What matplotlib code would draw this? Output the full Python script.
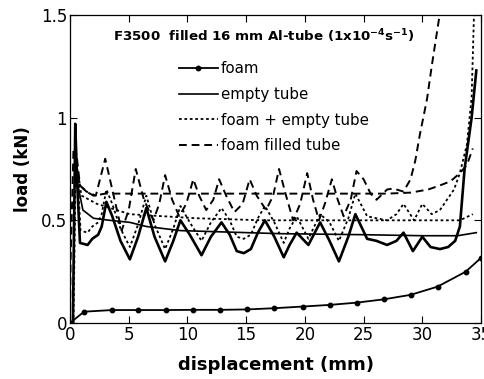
import matplotlib
matplotlib.use("Agg")
import matplotlib.pyplot as plt

# ---------- data ----------
# foam
foam_x = [0.0, 1.2, 3.6, 5.8, 8.2, 10.5, 12.8, 15.1, 17.4, 19.8, 22.1, 24.4, 26.7, 29.0, 31.3, 33.7, 35.0]
foam_y = [0.0, 0.055, 0.063, 0.063, 0.063, 0.064, 0.064, 0.066, 0.072, 0.080, 0.088, 0.099, 0.115, 0.137, 0.177, 0.25, 0.317]

# empty tube, raw (thick) and mean (thin)
tube_x = [0.25, 0.45, 0.6, 0.85, 1.5, 1.9, 2.4, 2.7, 3.1, 3.6, 4.3, 5.1, 5.8, 6.5, 7.2, 8.1, 8.8, 9.4,
          10.2, 11.2, 12.0, 12.9, 13.6, 14.2, 14.8, 15.4, 16.0, 16.6, 17.4, 18.2, 18.7, 19.3, 20.3, 21.3,
          22.1, 22.9, 23.7, 24.3, 25.3, 26.1, 27.0, 27.8, 28.4, 29.2, 30.0, 30.7, 31.5, 32.2, 32.8, 33.2,
          33.6, 34.2, 34.6]
tube_y = [0.0, 0.97, 0.70, 0.39, 0.38, 0.41, 0.43, 0.47, 0.59, 0.52, 0.40, 0.31, 0.42, 0.56, 0.42, 0.30,
          0.40, 0.50, 0.43, 0.33, 0.42, 0.49, 0.43, 0.35, 0.34, 0.36, 0.44, 0.50, 0.42, 0.32, 0.38, 0.44,
          0.38, 0.49, 0.40, 0.30, 0.42, 0.53, 0.41, 0.40, 0.38, 0.40, 0.44, 0.35, 0.42, 0.37, 0.36, 0.37,
          0.40, 0.47, 0.75, 1.0, 1.23]
tube_mx = [0.5, 1.1, 2.0, 3.4, 5.1, 6.5, 9.4, 12.2, 17.9, 25.0, 30.0, 33.0, 34.6]
tube_my = [0.72, 0.55, 0.51, 0.50, 0.49, 0.47, 0.45, 0.445, 0.435, 0.43, 0.425, 0.425, 0.44]

# foam + empty tube, raw and mean
sum_x = [0.3, 0.5, 0.65, 0.9, 1.5, 1.9, 2.4, 2.7, 3.1, 3.6, 4.3, 5.1, 5.8, 6.5, 7.2, 8.1, 8.8, 9.4,
         10.2, 11.2, 12.0, 12.9, 13.6, 14.2, 14.8, 15.4, 16.0, 16.6, 17.4, 18.2, 18.7, 19.3, 20.3, 21.3,
         22.1, 22.9, 23.7, 24.3, 25.3, 26.1, 27.0, 27.8, 28.4, 29.3, 30.0, 30.8, 31.5, 32.1, 32.7, 33.2,
         33.8, 34.2, 34.4]
sum_y = [0.0, 0.85, 0.72, 0.45, 0.44, 0.47, 0.49, 0.53, 0.65, 0.58, 0.46, 0.37, 0.48, 0.62, 0.48, 0.36,
         0.46, 0.57, 0.49, 0.40, 0.49, 0.56, 0.50, 0.42, 0.41, 0.43, 0.51, 0.57, 0.49, 0.39, 0.46, 0.52,
         0.41, 0.53, 0.49, 0.40, 0.51, 0.63, 0.52, 0.51, 0.50, 0.53, 0.58, 0.50, 0.58, 0.53, 0.55, 0.60,
         0.65, 0.73, 0.87, 1.1, 1.5]
sum_mx = [0.5, 1.0, 2.3, 5.1, 7.9, 10.8, 16.5, 25.0, 30.0, 33.2, 34.3]
sum_my = [0.75, 0.62, 0.58, 0.53, 0.52, 0.51, 0.50, 0.50, 0.50, 0.50, 0.53]

# foam filled tube, raw and mean
fill_x = [0.0, 0.05, 0.3, 0.6, 0.85, 1.4, 2.2, 3.0, 3.6, 4.4, 5.0, 5.6, 6.3, 7.1, 7.6, 8.1, 8.7, 9.3,
          9.9, 10.5, 11.0, 11.6, 12.2, 12.7, 13.3, 14.0, 14.7, 15.3, 15.9, 16.7, 17.3, 17.8, 18.4, 19.0,
          19.6, 20.2, 20.7, 21.2, 21.7, 22.3, 22.8, 23.3, 23.9, 24.4, 25.0, 25.6, 26.1, 27.0, 27.5, 28.4,
          29.0, 29.4, 29.8, 30.4, 30.8, 31.5]
fill_y = [0.0, 0.3, 0.85, 0.75, 0.67, 0.64, 0.62, 0.80, 0.65, 0.45, 0.55, 0.75, 0.60, 0.50, 0.58, 0.72,
          0.60, 0.52, 0.58, 0.70, 0.62, 0.55, 0.60, 0.70, 0.62, 0.54, 0.58, 0.70, 0.62, 0.55, 0.62, 0.75,
          0.62, 0.50, 0.58, 0.73, 0.60, 0.50, 0.58, 0.70, 0.60, 0.52, 0.60, 0.74, 0.70, 0.63, 0.60, 0.65,
          0.655, 0.64, 0.70, 0.79, 0.92, 1.09, 1.25, 1.51]
fill_mx = [0.6, 0.85, 1.4, 2.0, 3.0, 5.0, 10.0, 15.0, 20.0, 25.0, 27.0, 29.0, 30.5, 31.5, 32.4, 33.2, 33.8, 34.3]
fill_my = [0.80, 0.67, 0.64, 0.62, 0.63, 0.63, 0.63, 0.63, 0.63, 0.63, 0.63, 0.635, 0.65, 0.67, 0.69, 0.73, 0.77, 0.85]

x_ticks = [0, 5, 10, 15, 20, 25, 30, 35]
y_ticks = [0, 0.5, 1, 1.5]
y_ticklabels = ["0", "0.5", "1", "1.5"]

# ---------- figure ----------
plt.rcParams.update({"font.family": "DejaVu Sans", "font.size": 11})
fig = plt.figure(figsize=(4.85, 3.79), dpi=100)
ax = fig.add_axes([0.1443, 0.1478, 0.8475, 0.8126])

k = "black"
l_foam, = ax.plot(foam_x, foam_y, color=k, lw=1.3, marker="o", ms=3.2,
                  markevery=list(range(1, len(foam_x))))
l_tube, = ax.plot(tube_mx, tube_my, color=k, lw=1.2)
ax.plot(tube_x, tube_y, color=k, lw=1.9)
l_sum, = ax.plot(sum_mx, sum_my, color=k, lw=1.3, ls=(0, (1.5, 1.5)))
ax.plot(sum_x, sum_y, color=k, lw=1.3, ls=(0, (1.5, 1.5)))
l_fill, = ax.plot(fill_mx, fill_my, color=k, lw=1.4, ls=(0, (4, 2.5)))
ax.plot(fill_x, fill_y, color=k, lw=1.4, ls=(0, (4, 2.5)))

ax.set_xlim(0, 35)
ax.set_ylim(0, 1.5)
ax.set_xticks(x_ticks)
ax.set_yticks(y_ticks)
ax.set_yticklabels(y_ticklabels)
ax.tick_params(direction="in", top=True, right=True, length=5, width=0.8, labelsize=12, pad=2)
for s in ax.spines.values():
    s.set_linewidth(0.9)

ax.set_xlabel("displacement (mm)", fontweight="bold", fontsize=13, labelpad=9)
ax.set_ylabel("load (kN)", fontweight="bold", fontsize=12, labelpad=6)

ax.text(0.47, 0.93, r"F3500  filled 16 mm Al-tube (1x10$^{\mathbf{-4}}$s$^{\mathbf{-1}}$)",
        transform=ax.transAxes, ha="center", va="center", fontsize=9.6, fontweight="bold")

ax.legend([l_foam, l_tube, l_sum, l_fill],
          ["foam", "empty tube", "foam + empty tube", "foam filled tube"],
          loc="upper left", bbox_to_anchor=(0.25, 0.87), frameon=False, fontsize=10.8,
          handlelength=2.6, handletextpad=0.2, labelspacing=0.72, borderaxespad=0)

fig.savefig("out.png", dpi=100)
